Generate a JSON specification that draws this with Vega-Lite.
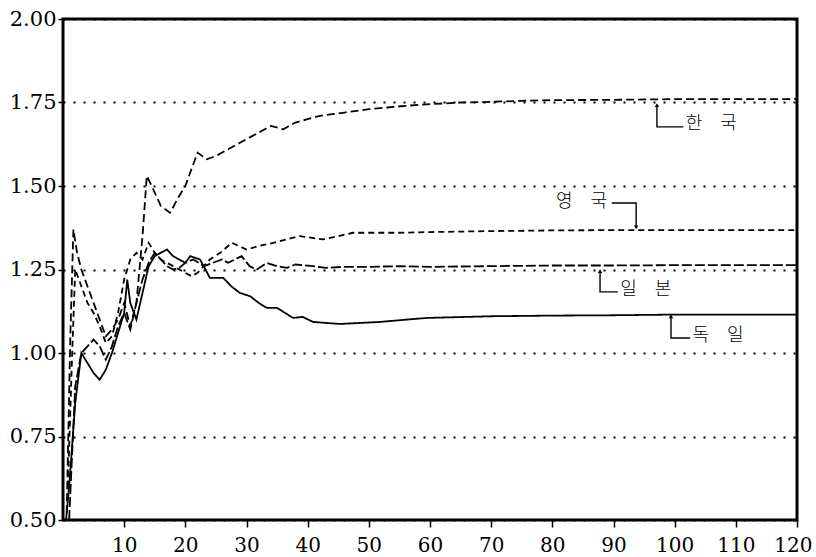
{
  "$schema": "https://vega.github.io/schema/vega-lite/v6.json",
  "width": 734,
  "height": 501,
  "autosize": {"type": "none"},
  "padding": {"left": 63, "top": 19, "right": 19, "bottom": 37},
  "background": "white",
  "config": {
    "view": {"stroke": "black", "strokeWidth": 3},
    "axis": {"domain": false, "labelFont": "DejaVu Serif", "labelFontSize": 21, "labelColor": "black", "tickColor": "black", "tickWidth": 1.5, "title": null}
  },
  "datasets": {
    "series": [
      {"s": "한국", "t": 0.6, "v": 0.52}, {"s": "한국", "t": 1.2, "v": 1.05}, {"s": "한국", "t": 1.7, "v": 1.37}, {"s": "한국", "t": 2.3, "v": 1.3}, {"s": "한국", "t": 3, "v": 1.25}, {"s": "한국", "t": 4, "v": 1.2}, {"s": "한국", "t": 5, "v": 1.15}, {"s": "한국", "t": 6, "v": 1.1},
      {"s": "한국", "t": 7, "v": 1.05}, {"s": "한국", "t": 8, "v": 1.07}, {"s": "한국", "t": 9, "v": 1.1}, {"s": "한국", "t": 10, "v": 1.15}, {"s": "한국", "t": 11, "v": 1.08}, {"s": "한국", "t": 12, "v": 1.15}, {"s": "한국", "t": 13, "v": 1.35}, {"s": "한국", "t": 13.7, "v": 1.53}, {"s": "한국", "t": 14.5, "v": 1.5}, {"s": "한국", "t": 16, "v": 1.44}, {"s": "한국", "t": 17.5, "v": 1.42}, {"s": "한국", "t": 19, "v": 1.47}, {"s": "한국", "t": 20, "v": 1.5}, {"s": "한국", "t": 21, "v": 1.55}, {"s": "한국", "t": 22, "v": 1.6}, {"s": "한국", "t": 23.5, "v": 1.58}, {"s": "한국", "t": 25, "v": 1.59}, {"s": "한국", "t": 27, "v": 1.61}, {"s": "한국", "t": 29, "v": 1.63}, {"s": "한국", "t": 31, "v": 1.65}, {"s": "한국", "t": 33, "v": 1.67}, {"s": "한국", "t": 34, "v": 1.68}, {"s": "한국", "t": 36, "v": 1.67}, {"s": "한국", "t": 38, "v": 1.69}, {"s": "한국", "t": 40, "v": 1.7}, {"s": "한국", "t": 42, "v": 1.71}, {"s": "한국", "t": 44, "v": 1.715}, {"s": "한국", "t": 46, "v": 1.72}, {"s": "한국", "t": 48, "v": 1.725}, {"s": "한국", "t": 50, "v": 1.73}, {"s": "한국", "t": 53, "v": 1.735}, {"s": "한국", "t": 56, "v": 1.74}, {"s": "한국", "t": 60, "v": 1.745}, {"s": "한국", "t": 65, "v": 1.75}, {"s": "한국", "t": 70, "v": 1.752}, {"s": "한국", "t": 75, "v": 1.755}, {"s": "한국", "t": 80, "v": 1.757}, {"s": "한국", "t": 90, "v": 1.758}, {"s": "한국", "t": 100, "v": 1.76}, {"s": "한국", "t": 110, "v": 1.76}, {"s": "한국", "t": 120, "v": 1.76},

      {"s": "영국", "t": 0.8, "v": 0.6}, {"s": "영국", "t": 1.5, "v": 1.0}, {"s": "영국", "t": 2, "v": 1.25}, {"s": "영국", "t": 3, "v": 1.2}, {"s": "영국", "t": 4, "v": 1.15}, {"s": "영국", "t": 5, "v": 1.12}, {"s": "영국", "t": 6, "v": 1.08}, {"s": "영국", "t": 7, "v": 1.03}, {"s": "영국", "t": 8, "v": 1.05}, {"s": "영국", "t": 9, "v": 1.12}, {"s": "영국", "t": 10, "v": 1.22}, {"s": "영국", "t": 11, "v": 1.28}, {"s": "영국", "t": 12, "v": 1.3}, {"s": "영국", "t": 13, "v": 1.28}, {"s": "영국", "t": 14, "v": 1.33}, {"s": "영국", "t": 15, "v": 1.3}, {"s": "영국", "t": 16, "v": 1.28}, {"s": "영국", "t": 17, "v": 1.27}, {"s": "영국", "t": 18, "v": 1.26}, {"s": "영국", "t": 19, "v": 1.25}, {"s": "영국", "t": 20, "v": 1.24}, {"s": "영국", "t": 21, "v": 1.23}, {"s": "영국", "t": 22, "v": 1.24}, {"s": "영국", "t": 23, "v": 1.26}, {"s": "영국", "t": 24, "v": 1.28}, {"s": "영국", "t": 25.7, "v": 1.3}, {"s": "영국", "t": 27.6, "v": 1.33}, {"s": "영국", "t": 30, "v": 1.31}, {"s": "영국", "t": 32, "v": 1.32}, {"s": "영국", "t": 34.4, "v": 1.33}, {"s": "영국", "t": 36.5, "v": 1.34}, {"s": "영국", "t": 38.7, "v": 1.35}, {"s": "영국", "t": 42.5, "v": 1.34}, {"s": "영국", "t": 45, "v": 1.35}, {"s": "영국", "t": 47.4, "v": 1.36}, {"s": "영국", "t": 51.8, "v": 1.36}, {"s": "영국", "t": 55, "v": 1.36}, {"s": "영국", "t": 60, "v": 1.362}, {"s": "영국", "t": 70, "v": 1.365}, {"s": "영국", "t": 80, "v": 1.367}, {"s": "영국", "t": 90, "v": 1.368}, {"s": "영국", "t": 100, "v": 1.368}, {"s": "영국", "t": 110, "v": 1.368}, {"s": "영국", "t": 120, "v": 1.368},

      {"s": "일본", "t": 1, "v": 0.5}, {"s": "일본", "t": 2, "v": 0.9}, {"s": "일본", "t": 3, "v": 1.0}, {"s": "일본", "t": 4, "v": 1.02}, {"s": "일본", "t": 5, "v": 1.04}, {"s": "일본", "t": 6, "v": 1.02}, {"s": "일본", "t": 7, "v": 0.98}, {"s": "일본", "t": 8, "v": 1.02}, {"s": "일본", "t": 9, "v": 1.08}, {"s": "일본", "t": 10, "v": 1.12}, {"s": "일본", "t": 11, "v": 1.07}, {"s": "일본", "t": 12, "v": 1.15}, {"s": "일본", "t": 13, "v": 1.22}, {"s": "일본", "t": 14, "v": 1.27}, {"s": "일본", "t": 15, "v": 1.3}, {"s": "일본", "t": 16, "v": 1.28}, {"s": "일본", "t": 17, "v": 1.26}, {"s": "일본", "t": 18, "v": 1.25}, {"s": "일본", "t": 19, "v": 1.255}, {"s": "일본", "t": 20, "v": 1.27}, {"s": "일본", "t": 21.3, "v": 1.28}, {"s": "일본", "t": 23, "v": 1.26}, {"s": "일본", "t": 24.5, "v": 1.27}, {"s": "일본", "t": 26, "v": 1.28}, {"s": "일본", "t": 27, "v": 1.27}, {"s": "일본", "t": 29.2, "v": 1.29}, {"s": "일본", "t": 30.5, "v": 1.26}, {"s": "일본", "t": 31.7, "v": 1.25}, {"s": "일본", "t": 33.3, "v": 1.27}, {"s": "일본", "t": 35, "v": 1.26}, {"s": "일본", "t": 36.6, "v": 1.255}, {"s": "일본", "t": 38, "v": 1.265}, {"s": "일본", "t": 40.9, "v": 1.26}, {"s": "일본", "t": 43, "v": 1.255}, {"s": "일본", "t": 46, "v": 1.258}, {"s": "일본", "t": 50, "v": 1.258}, {"s": "일본", "t": 55, "v": 1.26}, {"s": "일본", "t": 60, "v": 1.258}, {"s": "일본", "t": 70, "v": 1.26}, {"s": "일본", "t": 80, "v": 1.262}, {"s": "일본", "t": 90, "v": 1.262}, {"s": "일본", "t": 100, "v": 1.263}, {"s": "일본", "t": 110, "v": 1.263}, {"s": "일본", "t": 120, "v": 1.263},

      {"s": "독일", "t": 0.5, "v": 0.5}, {"s": "독일", "t": 1, "v": 0.6}, {"s": "독일", "t": 2, "v": 0.85}, {"s": "독일", "t": 3, "v": 1.0}, {"s": "독일", "t": 4, "v": 0.97}, {"s": "독일", "t": 5, "v": 0.94}, {"s": "독일", "t": 6, "v": 0.92}, {"s": "독일", "t": 7, "v": 0.95}, {"s": "독일", "t": 8, "v": 1.0}, {"s": "독일", "t": 9, "v": 1.06}, {"s": "독일", "t": 10, "v": 1.12}, {"s": "독일", "t": 10.5, "v": 1.22}, {"s": "독일", "t": 11, "v": 1.15}, {"s": "독일", "t": 12, "v": 1.1}, {"s": "독일", "t": 13, "v": 1.18}, {"s": "독일", "t": 14, "v": 1.26}, {"s": "독일", "t": 15, "v": 1.29}, {"s": "독일", "t": 16, "v": 1.3}, {"s": "독일", "t": 17, "v": 1.31}, {"s": "독일", "t": 18, "v": 1.29}, {"s": "독일", "t": 19, "v": 1.28}, {"s": "독일", "t": 20, "v": 1.27}, {"s": "독일", "t": 20.8, "v": 1.29}, {"s": "독일", "t": 22.4, "v": 1.28}, {"s": "독일", "t": 23.3, "v": 1.25}, {"s": "독일", "t": 24, "v": 1.225}, {"s": "독일", "t": 26.2, "v": 1.225}, {"s": "독일", "t": 27.5, "v": 1.2}, {"s": "독일", "t": 28.9, "v": 1.18}, {"s": "독일", "t": 30.6, "v": 1.17}, {"s": "독일", "t": 32, "v": 1.15}, {"s": "독일", "t": 33.3, "v": 1.135}, {"s": "독일", "t": 35, "v": 1.135}, {"s": "독일", "t": 37.6, "v": 1.105}, {"s": "독일", "t": 39.2, "v": 1.108}, {"s": "독일", "t": 40.9, "v": 1.093}, {"s": "독일", "t": 43, "v": 1.09}, {"s": "독일", "t": 45.3, "v": 1.087}, {"s": "독일", "t": 48.5, "v": 1.09}, {"s": "독일", "t": 51.8, "v": 1.093}, {"s": "독일", "t": 56.2, "v": 1.1}, {"s": "독일", "t": 59.5, "v": 1.105}, {"s": "독일", "t": 70, "v": 1.11}, {"s": "독일", "t": 80, "v": 1.112}, {"s": "독일", "t": 90, "v": 1.113}, {"s": "독일", "t": 100, "v": 1.115}, {"s": "독일", "t": 110, "v": 1.115}, {"s": "독일", "t": 120, "v": 1.115}
    ],
    "leaders": [
      {"id": "한국", "o": 1, "t": 97.1, "v": 1.737}, {"id": "한국", "o": 2, "t": 97.1, "v": 1.677}, {"id": "한국", "o": 3, "t": 101.4, "v": 1.677},
      {"id": "영국", "o": 1, "t": 89.7, "v": 1.449}, {"id": "영국", "o": 2, "t": 93.7, "v": 1.449}, {"id": "영국", "o": 3, "t": 93.7, "v": 1.38},
      {"id": "일본", "o": 1, "t": 87.8, "v": 1.24}, {"id": "일본", "o": 2, "t": 87.8, "v": 1.183}, {"id": "일본", "o": 3, "t": 90.7, "v": 1.183},
      {"id": "독일", "o": 1, "t": 99.4, "v": 1.105}, {"id": "독일", "o": 2, "t": 99.4, "v": 1.045}, {"id": "독일", "o": 3, "t": 102.5, "v": 1.045}
    ],
    "arrows": [
      {"t": 97.1, "v": 1.742, "shape": "triangle-up"},
      {"t": 93.7, "v": 1.376, "shape": "triangle-down"},
      {"t": 87.8, "v": 1.245, "shape": "triangle-up"},
      {"t": 99.4, "v": 1.11, "shape": "triangle-up"}
    ],
    "labels": [
      {"t": 101.8, "v": 1.685, "txt": "한　국"},
      {"t": 80.6, "v": 1.452, "txt": "영　국"},
      {"t": 91.1, "v": 1.19, "txt": "일　본"},
      {"t": 102.9, "v": 1.052, "txt": "독　일"}
    ]
  },
  "layer": [
    {
      "data": {"name": "series"},
      "mark": {"type": "line", "color": "black", "strokeWidth": 1.8, "clip": true},
      "encoding": {
        "x": {"field": "t", "type": "quantitative", "scale": {"domain": [0, 120], "nice": false, "zero": false},
              "axis": {"values": [10, 20, 30, 40, 50, 60, 70, 80, 90, 100, 110, 120], "grid": false, "tickSize": 7, "labelPadding": 8, "labelFlush": true, "labelFlushOffset": 15, "labelFont": "DejaVu Serif", "labelFontSize": 20}},
        "y": {"field": "v", "type": "quantitative", "scale": {"domain": [0.5, 2.0], "nice": false, "zero": false},
              "axis": {"values": [0.5, 0.75, 1.0, 1.25, 1.5, 1.75, 2.0], "format": ".2f", "grid": true, "gridColor": "black", "gridDash": [2, 8], "gridWidth": 1.8, "tickSize": 5, "labelPadding": 2, "labelFont": "DejaVu Serif", "labelFontSize": 21}},
        "detail": {"field": "s"},
        "strokeDash": {"field": "s", "type": "nominal",
                       "scale": {"domain": ["한국", "영국", "일본", "독일"], "range": [[8, 4], [6, 4], [10, 3], [1, 0]]},
                       "legend": null}
      }
    },
    {
      "data": {"name": "leaders"},
      "mark": {"type": "line", "color": "black", "strokeWidth": 1.4},
      "encoding": {
        "x": {"field": "t", "type": "quantitative"},
        "y": {"field": "v", "type": "quantitative"},
        "detail": {"field": "id"},
        "order": {"field": "o"}
      }
    },
    {
      "data": {"name": "arrows"},
      "mark": {"type": "point", "filled": true, "color": "black", "size": 20, "opacity": 1},
      "encoding": {
        "x": {"field": "t", "type": "quantitative"},
        "y": {"field": "v", "type": "quantitative"},
        "shape": {"field": "shape", "type": "nominal", "scale": null}
      }
    },
    {
      "data": {"name": "labels"},
      "mark": {"type": "text", "font": "Noto Sans CJK KR", "fontSize": 18, "fontWeight": 300, "color": "black", "baseline": "middle", "align": "left"},
      "encoding": {
        "x": {"field": "t", "type": "quantitative"},
        "y": {"field": "v", "type": "quantitative"},
        "text": {"field": "txt"}
      }
    }
  ]
}
